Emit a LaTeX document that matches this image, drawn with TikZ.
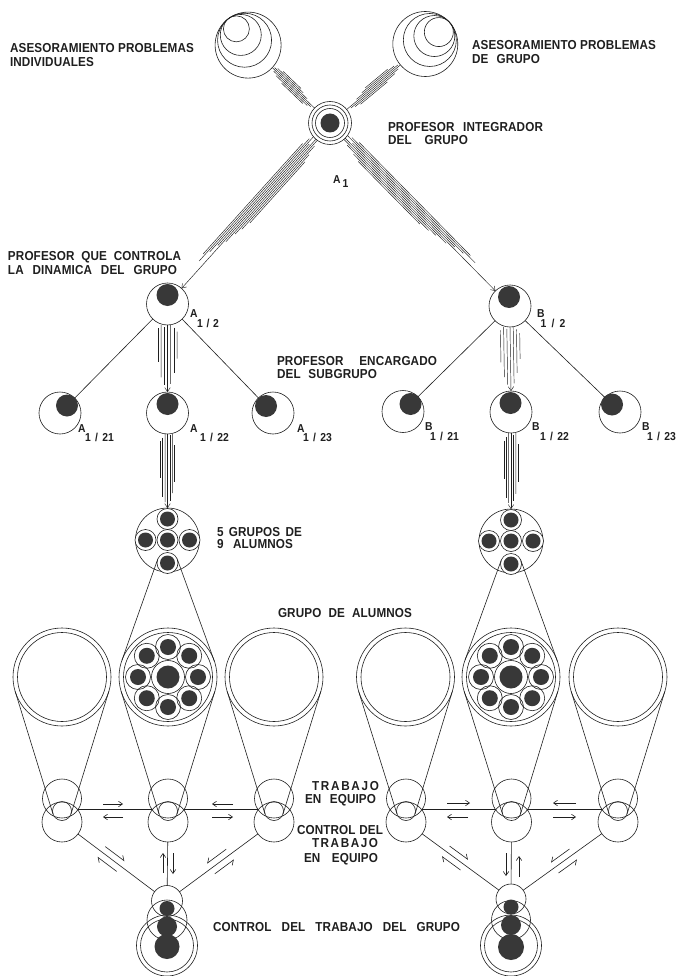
\documentclass[tikz,border=0pt]{standalone}
\usepackage{fontspec}
\setmainfont{Liberation Sans}
\newfontfamily\lbl[FakeStretch=0.9,LetterSpace=1]{Liberation Sans Bold}
\usetikzlibrary{calc,arrows.meta}
\definecolor{ink}{gray}{0.12}
\definecolor{dcol}{gray}{0.22}
\newcommand\hl[5]{%
  \path ($(#1)!#3!90:(#2)$) coordinate (hlS) ($(#2)!#3!-90:(#1)$) coordinate (hlE);
  \draw[hair] ($(hlS)!#4!(hlE)$) -- ($(hlS)!#5!(hlE)$);}
\def\tspec{-4.8pt/0.30/0.80,-3.2pt/0.14/0.88,-1.6pt/0.06/0.94,1.6pt/0.03/0.80,3.2pt/0.08/0.68,4.8pt/0.18/0.60}
\def\tspecR{4.8pt/0.30/0.80,3.2pt/0.14/0.88,1.6pt/0.06/0.94,-1.6pt/0.03/0.80,-3.2pt/0.08/0.68,-4.8pt/0.18/0.60}
\def\dspecA{-7pt/0.06/0.80,-5.25pt/0.02/0.84,-3.5pt/0.0/0.77,-1.75pt/0.04/0.72,1.75pt/0.0/0.68,3.5pt/0.03/0.62,5.25pt/0.08/0.58,7pt/0.12/0.53}
\def\dspecB{7pt/0.06/0.80,5.25pt/0.02/0.84,3.5pt/0.0/0.77,1.75pt/0.04/0.72,-1.75pt/0.0/0.68,-3.5pt/0.03/0.62,-5.25pt/0.08/0.58,-7pt/0.12/0.53}
\def\vspec{-9.6pt/0.05/0.55,-6.4pt/0.0/0.78,-3.2pt/0.03/0.90,3.2pt/0.0/0.88,6.4pt/0.04/0.72,9.6pt/0.10/0.50}
\def\wspec{-7.2pt/0.10/0.60,-4.8pt/0.05/0.85,-2.4pt/0.0/0.92,2.4pt/0.02/0.90,4.8pt/0.0/0.80,7.2pt/0.15/0.65}
\begin{document}
\begin{tikzpicture}[x=1pt,y=-1pt,line width=0.6pt,color=ink,
  crc/.style={circle,draw=ink,inner sep=0pt,outer sep=0pt,minimum size=#1},
  dsc/.style={circle,fill=dcol,draw=none,inner sep=0pt,outer sep=0pt,minimum size=#1},
  hair/.style={line width=0.45pt,draw=ink},
  arr/.style={-{Straight Barb[length=4pt,width=5.5pt]}},
  harpL/.style={-{Straight Barb[harpoon,length=4pt,width=7pt]}},
  harpR/.style={-{Straight Barb[harpoon,swap,length=4pt,width=7pt]}},
  lab/.style={font=\lbl\fontsize{13}{15}\selectfont,text=ink,inner sep=0pt,outer sep=0pt,anchor=base west},
  sml/.style={font=\lbl\fontsize{11.5}{13}\selectfont,text=ink,inner sep=0pt,outer sep=0pt,anchor=base west}]
\fill[white] (0,0) rectangle (679,976);
\useasboundingbox (0,0) rectangle (679,976);

% ---------- top advisory circles ----------
\node[crc=66pt] (TL) at (248.1,45.1) {};
\foreach \r in {27,20.5,13} {\draw ({228.8+0.584*\r},{18.3+0.812*\r}) circle[radius=\r pt];}
\node[crc=65pt] (TR) at (425.3,44) {};
\foreach \r in {26.5,20.5,14.5} {\draw ({449.7-0.75*\r},{22.5+0.66*\r}) circle[radius=\r pt];}

% ---------- A1 ----------
\node[crc=43pt] (A1) at (330,123) {};
\draw (A1.center) circle[radius=18pt] (A1.center) circle[radius=14.5pt];
\node[dsc=19pt] (A1d) at (A1) {};

% bundles to A1
\draw[hair] (TL.-43.6) -- (A1.136.4);
\foreach \o/\s/\e in \tspec {\hl{TL.-43.6}{A1.136.4}{\o}{\s}{\e}}
\draw[hair] (TR.-140.3) -- (A1.39.7);
\foreach \o/\s/\e in \tspecR {\hl{TR.-140.3}{A1.39.7}{\o}{\s}{\e}}

% ---------- level 2 ----------
\node[crc=42pt] (A12) at (167.5,304) {};
\node[dsc=22pt] (A12d) at (167.5,295) {};
\node[crc=42pt] (B12) at (510,306) {};
\node[dsc=22pt] (B12d) at (509,297) {};

\draw[hair,arr] (A1.-131.9) -- (A12.48.1);
\foreach \o/\s/\e in \dspecA {\hl{A1.-131.9}{A12.48.1}{\o}{\s}{\e}}
\draw[hair,arr] (A1.-45.5) -- (B12.134.5);
\foreach \o/\s/\e in \dspecB {\hl{A1.-45.5}{B12.134.5}{\o}{\s}{\e}}

% ---------- level 3 ----------
\node[crc=42pt] (A121) at (60,413) {};   \node[dsc=22pt] (A121d) at (67,405.5) {};
\node[crc=42pt] (A122) at (167.5,413) {};\node[dsc=22pt] (A122d) at (167.5,404) {};
\node[crc=42pt] (A123) at (273,413) {};  \node[dsc=22pt] (A123d) at (266,406) {};
\node[crc=42pt] (B121) at (403,411.5) {};\node[dsc=22pt] (B121d) at (410.5,404) {};
\node[crc=42pt] (B122) at (511,412) {};  \node[dsc=22pt] (B122d) at (510.5,403) {};
\node[crc=42pt] (B123) at (620,412) {};  \node[dsc=22pt] (B123d) at (612,404.5) {};

\draw (A12) -- (A121); \draw (A12) -- (A123);
\draw (B12) -- (B121); \draw (B12) -- (B123);

\draw[hair,arr] (A12.south) -- (A122.north);
\foreach \o/\s/\e in \vspec {\hl{A12.south}{A122.north}{\o}{\s}{\e}}
\draw[hair,arr] (B12.south) -- (B122.north);
\foreach \o/\s/\e in \vspec {\hl{B12.south}{B122.north}{\o}{\s}{\e}}

% ---------- 5 groups ----------
\node[crc=64pt] (G5A) at (167.5,540) {};
\foreach \dx/\dy/\nm in {0/-21/t,-22/0/l,22/0/r,0/0/c,0/23/b}
  {\node[crc=21pt,fill=white] (g5A\nm) at ($(G5A)+(\dx,\dy)$) {}; \node[dsc=15pt] (g5Ad\nm) at (g5A\nm) {};}
\node[crc=64pt] (G5B) at (511,541) {};
\foreach \dx/\dy/\nm in {0/-21/t,-22/0/l,22/0/r,0/0/c,0/23/b}
  {\node[crc=21pt,fill=white] (g5B\nm) at ($(G5B)+(\dx,\dy)$) {}; \node[dsc=15pt] (g5Bd\nm) at (g5B\nm) {};}

\draw[hair,arr] (A122.south) -- (G5A.north);
\foreach \o/\s/\e in \wspec {\hl{A122.south}{G5A.north}{\o}{\s}{\e}}
\draw[hair,arr] (B122.south) -- (G5B.north);
\foreach \o/\s/\e in \wspec {\hl{B122.south}{G5B.north}{\o}{\s}{\e}}

% ---------- big group circles ----------
\foreach \nm/\x in {GAl/62,GAm/168,GAr/274,GBl/405.5,GBm/511,GBr/618}
  {\node[crc=98pt] (\nm) at (\x,677) {}; \draw (\nm.center) circle[radius=44.5pt];}
\foreach \G/\p in {GAm/gA,GBm/gB}{
  \node[crc=33pt] (\p c) at (\G) {}; \node[dsc=23pt] (\p cd) at (\G) {};
  \foreach \a in {0,45,...,315} {\node[crc=25pt] (\p\a) at ($(\G)+(\a:30pt)$) {}; \node[dsc=16pt] (\p d\a) at (\p\a) {};}
}
% tangents from 5-group node to group circle
\draw (g5Ab.160.26) -- (GAm.160.26); \draw (g5Ab.19.74) -- (GAm.19.74);
\draw (g5Bb.160.08) -- (GBm.160.08); \draw (g5Bb.19.92) -- (GBm.19.92);

% ---------- bottom row ----------
\foreach \s/\x in {Al/62,Am/168,Ar/274,Bl/406,Bm/511.5,Br/618}{
  \node[crc=39pt] (u\s) at (\x,798.5) {};
  \node[crc=40pt] (l\s) at (\x,822) {};
  \node[crc=19pt] (s\s) at (\x,811) {};
}
\foreach \s in {Al,Am,Ar,Bl,Bm,Br}{
  \draw (G\s.197.14) -- (s\s.197.14); \draw (G\s.-17.14) -- (s\s.-17.14);
}
% horizontal links
\draw ($(sAl)+(16,-1.3)$) -- ($(sAm)+(-16,-1.3)$);
\draw ($(sAm)+(16,-1.3)$) -- ($(sAr)+(-16,-1.3)$);
\draw ($(sBl)+(16,-1.3)$) -- ($(sBm)+(-16,-1.3)$);
\draw ($(sBm)+(16,-1.3)$) -- ($(sBr)+(-16,-1.3)$);

% ---------- bottom control nodes ----------
\node[crc=31pt] (botA) at (167,901) {};
\node[crc=40pt] (midA) at (167,920) {};
\node[crc=61pt] (outA) at (167,945.5) {};
\draw (outA.center) circle[radius=26.5pt];
\node[dsc=15pt] (dA1) at (167,908.5) {};
\node[dsc=20pt] (dA2) at (167,926.5) {};
\node[dsc=25pt] (dA3) at (167,946.5) {};
\node[crc=30pt] (botB) at (511,899) {};
\node[crc=39pt] (midB) at (511,920) {};
\node[crc=61pt] (outB) at (511,945.5) {};
\draw (outB.center) circle[radius=26.5pt];
\node[dsc=15pt] (dB1) at (511,907) {};
\node[dsc=20pt] (dB2) at (511,925) {};
\node[dsc=26pt] (dB3) at (511,947) {};

\draw (lAl) -- (botA); \draw (lAr) -- (botA); \draw (lAm) -- (botA);
\draw (lBl) -- (botB); \draw (lBr) -- (botB); \draw (lBm) -- (botB);

% ---------- small arrows ----------
\draw[arr] (103,804) -- (123,804);  \draw[arr] (123,817) -- (103,817);
\draw[arr] (233,804) -- (212,804);  \draw[arr] (212,817) -- (233,817);
\draw[arr] (447,803) -- (470,803);  \draw[arr] (468,817) -- (447,817);
\draw[arr] (576,803) -- (553,803);  \draw[arr] (553,817) -- (576,817);
\draw[arr] (163,873) -- (163,853);  \draw[arr] (173,853) -- (173,874);
\draw[arr] (506,853) -- (506,876);  \draw[arr] (519,877) -- (519,856);
\draw[harpL] (105.3,846.6) -- (124.5,861);  \draw[harpL] (116.7,871.4) -- (97.5,857);
\draw[harpR] (226.2,849.2) -- (207,863.4);  \draw[harpR] (214.8,873.8) -- (234,859.6);
\draw[harpL] (449.5,846) -- (468.1,859.6);  \draw[harpL] (460.5,870) -- (441.9,856.4);
\draw[harpR] (569.5,849) -- (550.9,862.4);  \draw[harpR] (558.5,873) -- (577.1,859.6);

% ---------- labels ----------
\node[sml] (lA1a) at (333,184) {A};      \node[sml] (lA1b) at (342.5,188) {1};
\node[sml] (lA12a) at (190,317.5) {A};   \node[sml] (lA12b) at (197,327) {\hbox to 22pt{1\hfill/\hfill2}};
\node[sml] (lB12a) at (537,317.5) {B};   \node[sml] (lB12b) at (540.5,327) {\hbox to 25pt{1\hfill/\hfill2}};
\node[sml] (lA121a) at (78,432) {A};     \node[sml] (lA121b) at (85,441.5) {\hbox to 29pt{1\hfill/\hfill21}};
\node[sml] (lA122a) at (190,432) {A};    \node[sml] (lA122b) at (200,441.5) {\hbox to 29pt{1\hfill/\hfill22}};
\node[sml] (lA123a) at (297,432) {A};    \node[sml] (lA123b) at (303,441.5) {\hbox to 29pt{1\hfill/\hfill23}};
\node[sml] (lB121a) at (425,430) {B};    \node[sml] (lB121b) at (430,440) {\hbox to 29pt{1\hfill/\hfill21}};
\node[sml] (lB122a) at (532,430) {B};    \node[sml] (lB122b) at (540,440) {\hbox to 29pt{1\hfill/\hfill22}};
\node[sml] (lB123a) at (642,430) {B};    \node[sml] (lB123b) at (647,440) {\hbox to 29pt{1\hfill/\hfill23}};

\node[lab] (t1a) at (10,53) {\hbox to 184pt{ASESORAMIENTO\hfill PROBLEMAS}};
\node[lab] (t1b) at (10,67) {INDIVIDUALES};
\node[lab] (t2a) at (472,50) {\hbox to 184pt{ASESORAMIENTO\hfill PROBLEMAS}};
\node[lab] (t2b) at (472,63.5) {\hbox to 68pt{DE\hfill GRUPO}};
\node[lab] (t3a) at (388,131.5) {\hbox to 155pt{PROFESOR\hfill INTEGRADOR}};
\node[lab] (t3b) at (388,145) {\hbox to 80pt{DEL\hfill GRUPO}};
\node[lab] (t4a) at (8,260) {\hbox to 173pt{PROFESOR\hfill QUE\hfill CONTROLA}};
\node[lab] (t4b) at (8,274) {\hbox to 169pt{LA\hfill DINAMICA\hfill DEL\hfill GRUPO}};
\node[lab] (t5a) at (277,365) {\hbox to 160pt{PROFESOR\hfill ENCARGADO}};
\node[lab] (t5b) at (277,378.5) {\hbox to 100pt{DEL\hfill SUBGRUPO}};
\node[lab] (t6a) at (217,536.5) {\hbox to 85pt{5\hfill GRUPOS\hfill DE}};
\node[lab] (t6b) at (217,548.5) {\hbox to 76pt{9\hfill ALUMNOS}};
\node[lab] (t7) at (278,617) {\hbox to 134pt{GRUPO\hfill DE\hfill ALUMNOS}};
\node[lab] (t8a) at (312,790) {\hbox to 67pt{T\hfill R\hfill A\hfill B\hfill A\hfill J\hfill O}};
\node[lab] (t8b) at (305,803) {\hbox to 71pt{EN\hfill EQUIPO}};
\node[lab] (t9a) at (297,834) {\hbox to 86pt{CONTROL\hfill DEL}};
\node[lab] (t9b) at (312,847.5) {\hbox to 66pt{T\hfill R\hfill A\hfill B\hfill A\hfill J\hfill O}};
\node[lab] (t9c) at (304,862) {\hbox to 74pt{EN\hfill EQUIPO}};
\node[lab] (t10) at (213,931) {\hbox to 247pt{CONTROL\hfill DEL\hfill TRABAJO\hfill DEL\hfill GRUPO}};
\end{tikzpicture}
\end{document}
